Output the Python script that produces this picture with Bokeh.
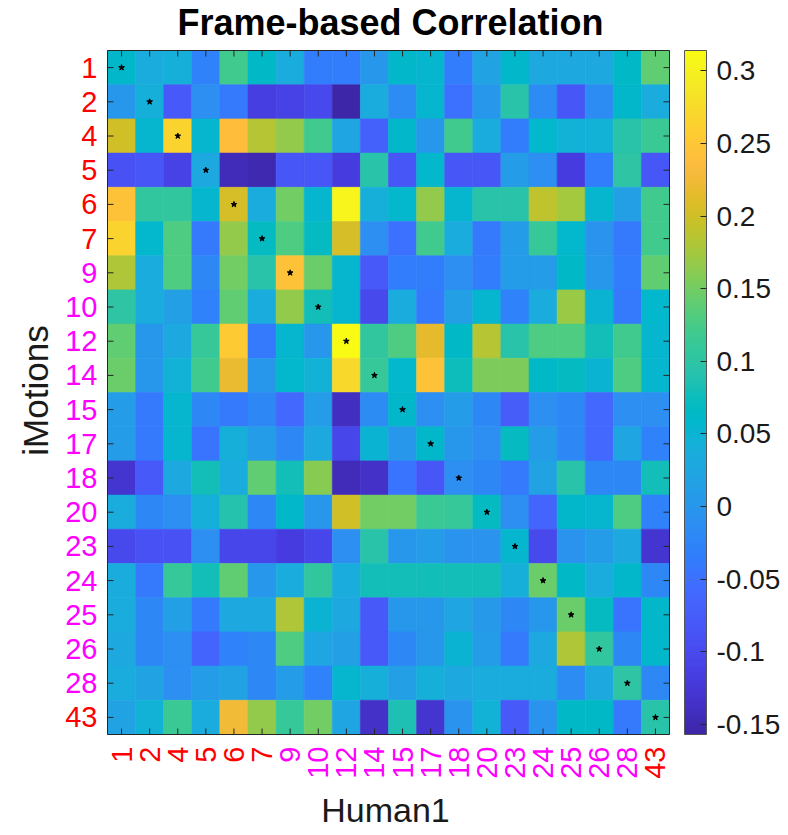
import numpy as np
from bokeh.plotting import figure
from bokeh.models import (ColumnDataSource, LinearColorMapper, ColorBar, FixedTicker,
                          LabelSet, Label, Range1d, CustomJSTickFormatter)
from bokeh.core.properties import value
from bokeh.embed import file_html
from bokeh.resources import INLINE

# ---------------- data ----------------
labels = ["1", "2", "4", "5", "6", "7", "9", "10", "12", "14",
          "15", "17", "18", "20", "23", "24", "25", "26", "28", "43"]
label_colors = ["#ff0000"] * 6 + ["#ff00ff"] * 13 + ["#ff0000"]

r_1 = [0.06, 0.035, 0.04, -0.03, 0.12, 0.065, 0.035, -0.035, -0.035, 0.0, 0.06, 0.055, -0.035, 0.02, 0.06, 0.03, 0.03, 0.03, 0.065, 0.14]
r_2 = [0.0, 0.04, -0.08, -0.01, -0.04, -0.115, -0.11, -0.1, -0.157, 0.035, -0.015, 0.055, -0.05, 0.0, 0.095, -0.015, -0.085, -0.015, 0.06, 0.035]
r_4 = [0.2, 0.055, 0.265, 0.055, 0.24, 0.185, 0.165, 0.12, 0.025, -0.07, 0.06, 0.0, 0.12, 0.035, -0.035, 0.058, 0.045, 0.045, 0.095, 0.115]
r_5 = [-0.09, -0.085, -0.11, 0.03, -0.145, -0.15, -0.085, -0.085, -0.12, 0.095, -0.085, 0.058, -0.085, -0.085, 0.01, -0.01, -0.12, -0.035, 0.1, -0.085]
r_6 = [0.245, 0.105, 0.105, 0.055, 0.205, 0.035, 0.15, 0.055, 0.305, 0.04, 0.058, 0.165, 0.055, 0.095, 0.095, 0.19, 0.175, 0.055, 0.015, 0.12]
r_7 = [0.265, 0.058, 0.13, -0.04, 0.165, 0.07, 0.13, 0.07, 0.205, -0.01, -0.05, 0.12, 0.035, -0.04, 0.01, 0.11, 0.058, -0.005, -0.04, 0.12]
r_9 = [0.18, 0.035, 0.13, -0.02, 0.15, 0.095, 0.245, 0.145, 0.055, -0.08, -0.035, -0.035, -0.01, -0.035, 0.01, 0.01, 0.065, 0.0, -0.035, 0.14]
r_10 = [0.1, 0.035, 0.015, -0.03, 0.14, 0.035, 0.165, 0.08, 0.055, -0.1, 0.035, -0.04, 0.015, 0.055, -0.03, 0.035, 0.17, 0.05, -0.04, 0.058]
r_12 = [0.14, 0.0, 0.03, 0.11, 0.255, -0.04, 0.055, 0.0, 0.314, 0.105, 0.13, 0.215, 0.065, 0.185, 0.095, 0.13, 0.13, 0.08, 0.12, 0.055]
r_14 = [0.145, 0.0, 0.045, 0.12, 0.22, 0.0, 0.058, 0.045, 0.27, 0.11, 0.058, 0.245, 0.075, 0.155, 0.155, 0.065, 0.07, 0.05, 0.13, 0.055]
r_15 = [0.01, -0.04, 0.055, -0.02, -0.04, -0.02, -0.06, 0.01, -0.14, -0.015, 0.06, -0.01, 0.01, -0.02, -0.075, -0.01, -0.02, -0.06, -0.01, -0.01]
r_17 = [0.01, -0.04, 0.055, -0.045, 0.04, 0.01, -0.02, 0.03, -0.105, 0.05, 0.0, 0.06, 0.0, -0.01, 0.07, 0.01, -0.02, -0.06, 0.025, -0.03]
r_18 = [-0.13, -0.08, 0.03, 0.08, 0.035, 0.14, 0.08, 0.16, -0.145, -0.135, -0.045, -0.085, -0.01, -0.02, -0.04, 0.02, 0.095, -0.02, -0.02, 0.08]
r_20 = [0.035, -0.02, -0.01, 0.04, 0.09, -0.02, 0.06, 0.0, 0.2, 0.15, 0.15, 0.115, 0.11, 0.07, -0.01, -0.065, 0.06, 0.055, 0.13, -0.03]
r_23 = [-0.1, -0.09, -0.09, -0.01, -0.105, -0.105, -0.12, -0.105, -0.01, 0.095, 0.0, 0.01, -0.005, -0.005, 0.055, -0.1, -0.005, 0.01, 0.03, -0.13]
r_24 = [0.035, -0.04, 0.11, 0.08, 0.14, 0.0, 0.035, 0.105, 0.035, 0.08, 0.08, 0.08, 0.08, 0.08, 0.04, 0.145, 0.065, 0.035, 0.06, -0.02]
r_25 = [0.035, -0.02, 0.015, -0.04, 0.03, 0.03, 0.18, 0.05, 0.03, -0.08, 0.0, 0.0, 0.025, 0.005, -0.02, 0.0, 0.145, 0.07, -0.045, 0.06]
r_26 = [0.03, -0.02, -0.01, -0.065, -0.03, -0.02, 0.13, 0.025, 0.015, -0.08, -0.02, 0.0, 0.05, 0.01, -0.04, 0.03, 0.18, 0.105, -0.02, 0.06]
r_28 = [0.035, 0.02, -0.01, 0.01, 0.02, -0.02, 0.01, -0.03, 0.055, 0.04, 0.015, 0.04, 0.03, 0.035, 0.035, 0.035, -0.015, 0.03, 0.1, -0.02]
r_43 = [0.02, 0.045, 0.115, 0.035, 0.225, 0.165, 0.11, 0.15, 0.025, -0.135, 0.085, -0.13, -0.005, 0.045, -0.08, -0.005, 0.065, 0.065, -0.04, 0.095]

rows = [r_1, r_2, r_4, r_5, r_6, r_7, r_9, r_10, r_12, r_14,
        r_15, r_17, r_18, r_20, r_23, r_24, r_25, r_26, r_28, r_43]

c_low, c_high = -0.157, 0.314
cbar_ticks = [-0.15, -0.1, -0.05, 0.0, 0.05, 0.1, 0.15, 0.2, 0.25, 0.3]

# ---------------- parula palette ----------------
parula = [
    (0.2422, 0.1504, 0.6603), (0.2504, 0.1650, 0.7076), (0.2578, 0.1818, 0.7511), (0.2647, 0.1978, 0.7952),
    (0.2706, 0.2147, 0.8364), (0.2751, 0.2342, 0.8710), (0.2783, 0.2559, 0.8991), (0.2803, 0.2782, 0.9221),
    (0.2813, 0.3006, 0.9414), (0.2810, 0.3228, 0.9579), (0.2795, 0.3447, 0.9717), (0.2760, 0.3667, 0.9829),
    (0.2699, 0.3892, 0.9906), (0.2602, 0.4123, 0.9952), (0.2440, 0.4358, 0.9988), (0.2206, 0.4603, 0.9973),
    (0.1963, 0.4847, 0.9892), (0.1834, 0.5074, 0.9798), (0.1786, 0.5289, 0.9682), (0.1764, 0.5499, 0.9520),
    (0.1687, 0.5703, 0.9359), (0.1540, 0.5902, 0.9218), (0.1460, 0.6091, 0.9079), (0.1380, 0.6276, 0.8973),
    (0.1248, 0.6459, 0.8883), (0.1113, 0.6635, 0.8763), (0.0952, 0.6798, 0.8598), (0.0689, 0.6948, 0.8394),
    (0.0297, 0.7082, 0.8163), (0.0036, 0.7203, 0.7917), (0.0067, 0.7312, 0.7660), (0.0433, 0.7411, 0.7394),
    (0.0964, 0.7500, 0.7120), (0.1408, 0.7584, 0.6842), (0.1717, 0.7670, 0.6554), (0.1938, 0.7758, 0.6251),
    (0.2161, 0.7843, 0.5923), (0.2470, 0.7918, 0.5567), (0.2906, 0.7973, 0.5188), (0.3406, 0.8008, 0.4789),
    (0.3909, 0.8029, 0.4354), (0.4456, 0.8024, 0.3909), (0.5044, 0.7993, 0.3480), (0.5616, 0.7942, 0.3045),
    (0.6174, 0.7876, 0.2612), (0.6720, 0.7793, 0.2227), (0.7242, 0.7698, 0.1910), (0.7738, 0.7598, 0.1646),
    (0.8203, 0.7498, 0.1535), (0.8634, 0.7406, 0.1596), (0.9035, 0.7330, 0.1774), (0.9393, 0.7288, 0.2100),
    (0.9728, 0.7298, 0.2394), (0.9956, 0.7434, 0.2371), (0.9970, 0.7659, 0.2199), (0.9952, 0.7893, 0.2028),
    (0.9892, 0.8136, 0.1885), (0.9786, 0.8386, 0.1766), (0.9676, 0.8639, 0.1643), (0.9610, 0.8890, 0.1537),
    (0.9597, 0.9135, 0.1423), (0.9628, 0.9373, 0.1265), (0.9691, 0.9606, 0.1064), (0.9769, 0.9839, 0.0805)]
pa = np.array(parula)
src = np.linspace(0, 1, len(parula))
tt = np.linspace(0, 1, 256)
palette = ["#%02x%02x%02x" % tuple(int(round(255 * np.interp(t, src, pa[:, k]))) for k in range(3)) for t in tt]

mapper = LinearColorMapper(palette=palette, low=c_low, high=c_high)

# ---------------- layout (pixels) ----------------
W, H = 780, 834                 # canvas
HM_L, HM_R = 107, 669           # heatmap left / right on canvas
HM_T, HM_B = 50, 734            # heatmap top / bottom on canvas
n = len(labels)
sx = (HM_R - HM_L) / n          # px per column
sy = (HM_B - HM_T) / n          # px per row

x_start = -HM_L / sx
x_end = n + (W - HM_R) / sx
y_top = -HM_T / sy
y_bot = n + (H - HM_B) / sy

# ---------------- sources ----------------
xs, ys, vals = [], [], []
for i, row in enumerate(rows):
    for j, v in enumerate(row):
        xs.append(j + 0.5)
        ys.append(i + 0.5)
        vals.append(v)
cells = ColumnDataSource(dict(x=xs, y=ys, v=vals))
centers = [k + 0.5 for k in range(n)]
diag = ColumnDataSource(dict(x=centers, y=centers))

FONT = "Liberation Sans"
DARK = "#262626"
TXT = "#1a1a1a"

p = figure(frame_width=W, frame_height=H,
           x_range=Range1d(x_start, x_end), y_range=Range1d(y_bot, y_top),
           output_backend="svg", toolbar_location=None,
           min_border=0)
p.axis.visible = False
p.grid.visible = False
p.outline_line_color = None
p.background_fill_color = "white"

p.rect(x="x", y="y", width=1, height=1, source=cells,
       fill_color={"field": "v", "transform": mapper},
       line_color={"field": "v", "transform": mapper}, line_width=0.6)
p.scatter(x="x", y="y", source=diag, marker="star", size=6, color="black")

# box around the heatmap
p.rect(x=[n / 2], y=[n / 2], width=n, height=n, fill_color=None, line_color=DARK, line_width=1)

# inward ticks on all four sides
tdx = 6 / sx
tdy = 6 / sy
p.segment(x0=centers, y0=[0] * n, x1=centers, y1=[tdy] * n, line_color=DARK, line_width=1)
p.segment(x0=centers, y0=[n] * n, x1=centers, y1=[n - tdy] * n, line_color=DARK, line_width=1)
p.segment(x0=[0] * n, y0=centers, x1=[tdx] * n, y1=centers, line_color=DARK, line_width=1)
p.segment(x0=[n] * n, y0=centers, x1=[n - tdx] * n, y1=centers, line_color=DARK, line_width=1)

# tick labels (coloured)
ylab = ColumnDataSource(dict(x=[-10 / sx] * n, y=centers, t=labels, c=label_colors))
p.add_layout(LabelSet(x="x", y="y", text="t", source=ylab, text_color="c",
                      text_align="right", text_baseline="middle",
                      text_font=value(FONT), text_font_size=value("29px")))
xlab = ColumnDataSource(dict(x=centers, y=[n + 12 / sy] * n, t=labels, c=label_colors))
p.add_layout(LabelSet(x="x", y="y", text="t", source=xlab, text_color="c",
                      angle=np.pi / 2, text_align="right", text_baseline="middle",
                      text_font=value(FONT), text_font_size=value("29px")))

p.add_layout(Label(x=(390 - HM_L) / sx, y=(22 - HM_T) / sy, text="Frame-based Correlation",
                   text_align="center", text_baseline="middle",
                   text_font=FONT, text_font_size="36px",
                   text_font_style="bold", text_color="black"))
p.add_layout(Label(x=(385 - HM_L) / sx, y=n + (809 - HM_B) / sy, text="Human1", text_align="center",
                   text_baseline="middle", text_font=FONT, text_font_size="34px",
                   text_color=TXT))
p.add_layout(Label(x=(35 - HM_L) / sx, y=(390 - HM_T) / sy, text="iMotions", text_align="center",
                   angle=np.pi / 2, text_baseline="middle", text_font=FONT, text_font_size="35px",
                   text_color=TXT))

cb = ColorBar(color_mapper=mapper, ticker=FixedTicker(ticks=cbar_ticks),
              formatter=CustomJSTickFormatter(code="return (Math.round(tick*100)/100).toString();"),
              width=22, height=HM_B - HM_T, margin=0, padding=0, label_standoff=10,
              location=(684, H - HM_B),
              major_label_text_font_size="28px", major_label_text_font=FONT,
              major_label_text_color=TXT,
              major_tick_line_color=DARK, major_tick_in=6, major_tick_out=0,
              minor_tick_line_color=None,
              bar_line_color="#555555", border_line_color=None,
              background_fill_color=None)
p.add_layout(cb, "center")

open("out.html", "w").write(file_html(p, INLINE))
